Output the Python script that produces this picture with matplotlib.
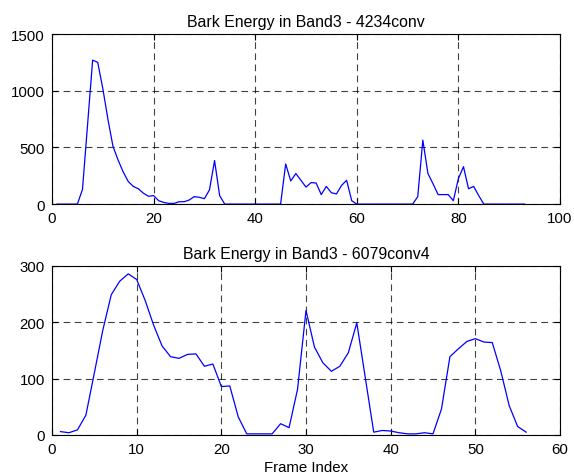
import matplotlib
matplotlib.use("Agg")
import matplotlib.pyplot as plt

# Top: Bark Energy in Band3 - 4234conv (frames 1..93)
top_vals = [0, 0, 0, 0, 0, 130, 700, 1270, 1250, 1020, 750, 510, 390, 285, 200, 156, 135, 96, 69, 75,
            30, 15, 6, 6, 21, 21, 36, 66, 60, 48, 126, 384, 75, 0, 0, 0, 0, 0, 0, 0,
            0, 0, 0, 0, 0, 354, 204, 270, 210, 150, 190, 186, 84, 156, 100, 90, 165, 210, 30, 0,
            0, 0, 0, 0, 0, 0, 0, 0, 0, 0, 0, 66, 564, 270, 180, 84, 84, 84, 30, 225,
            330, 135, 156, 75, 0, 0, 0, 0, 0, 0, 0, 0, 0]
top_x = list(range(1, len(top_vals) + 1))

# Bottom: Bark Energy in Band3 - 6079conv4 (frames 1..56)
bot_vals = [6, 4, 9, 35, 110, 186, 249, 273, 286, 276, 239, 195, 158, 139, 136, 143, 144, 122, 126, 86,
            87, 32, 2, 2, 2, 2, 20, 13, 81, 221, 156, 128, 113, 122, 146, 199, 102, 5, 8, 7,
            4, 2, 2, 4, 2, 46, 139, 153, 166, 171, 165, 164, 114, 52, 15, 5]
bot_x = list(range(1, len(bot_vals) + 1))

top_title = "Bark Energy in Band3 - 4234conv"
bot_title = "Bark Energy in Band3 - 6079conv4"
xlabel = "Frame Index"

plt.rcParams['font.family'] = ['Liberation Sans', 'DejaVu Sans']
FS = 10.8
TFS = 11.4

fig = plt.figure(figsize=(5.74, 4.77), dpi=100)
ax1 = fig.add_axes([0.0906, 0.570, 0.885, 0.3566])
ax2 = fig.add_axes([0.0906, 0.086, 0.885, 0.3543])

def style(ax):
    ax.grid(True, color='black', linestyle=(0, (6, 4)), linewidth=0.8, alpha=0.75)
    ax.tick_params(direction='in', length=4, width=0.8, colors='black', labelsize=FS)
    ax.tick_params(axis='x', pad=5)
    ax.tick_params(axis='y', pad=5)
    ax.tick_params(top=True, right=True)
    for s in ax.spines.values():
        s.set_linewidth(0.8)
        s.set_color('black')

ax1.plot(top_x, top_vals, color='#0000ff', linewidth=0.9)
ax1.set_xlim(0, 100)
ax1.set_ylim(0, 1500)
ax1.set_xticks([0, 20, 40, 60, 80, 100])
ax1.set_yticks([0, 500, 1000, 1500])
ax1.set_title(top_title, fontsize=TFS, pad=6)
style(ax1)

ax2.plot(bot_x, bot_vals, color='#0000ff', linewidth=0.9)
ax2.set_xlim(0, 60)
ax2.set_ylim(0, 300)
ax2.set_xticks([0, 10, 20, 30, 40, 50, 60])
ax2.set_yticks([0, 100, 200, 300])
ax2.set_title(bot_title, fontsize=TFS, pad=6)
ax2.set_xlabel(xlabel, fontsize=FS, labelpad=3)
style(ax2)

fig.savefig("out.png", dpi=100, facecolor='white')
